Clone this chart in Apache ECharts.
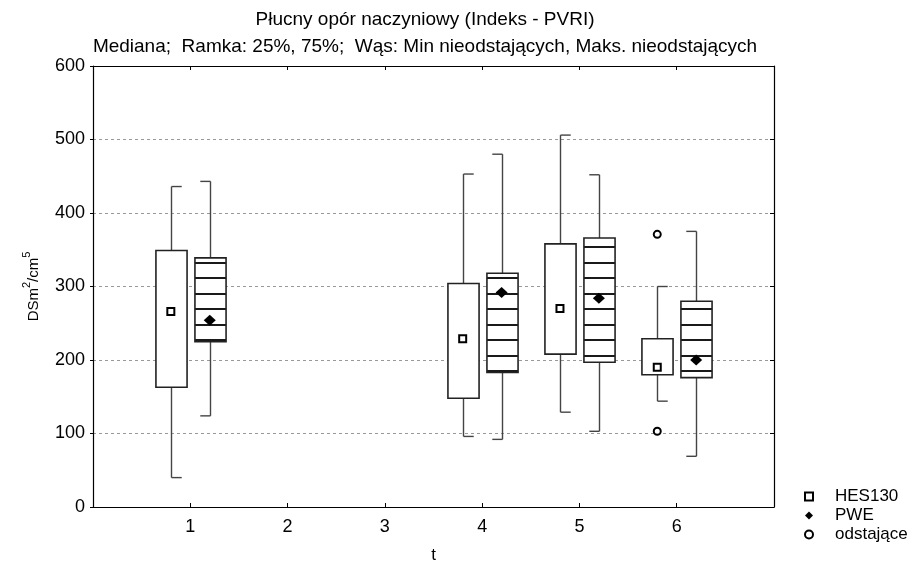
<!DOCTYPE html>
<html>
<head>
<meta charset="utf-8">
<script src="https://cdn.jsdelivr.net/npm/echarts@6/dist/echarts.min.js"></script>
<style>
html,body{margin:0;padding:0;background:#fff;}
#chart{width:913px;height:563px;}
</style>
</head>
<body>
<div id="chart"></div>
<script>
// ---- data ----
const categories = [1, 2, 3, 4, 5, 6];
const groupsT = [1, 4, 5, 6];
// [min (non-outlier), Q1, median, Q3, max (non-outlier)]
const hes130 = [
  [40, 163, 266, 349, 436],
  [96, 148, 229, 304, 453],
  [129, 208, 270, 358, 506],
  [144, 180, 190, 229, 300]
];
const pwe = [
  [124, 225, 254, 339, 443],
  [92, 183, 292, 318, 480],
  [103, 197, 284, 366, 452],
  [69, 176, 200, 280, 375]
];
// outliers: [t, value] (HES130 group)
const outliersHes = [[6, 371], [6, 103]];
const yTicks = [0, 100, 200, 300, 400, 500, 600];

const titleText = 'Płucny opór naczyniowy (Indeks - PVRI)';
const subText = 'Mediana;  Ramka: 25%, 75%;  Wąs: Min nieodstających, Maks. nieodstających';

// ---- styling helpers ----
const FONT = '"Liberation Sans", Arial, sans-serif';
const OFF = 0.2;      // group offset in category units
const BOXW = 0.32;    // box width in category units
const CAPW = 0.105;   // whisker cap length

// hatch pattern for PWE boxes
const pat = document.createElement('canvas');
pat.width = 8; pat.height = 31;
const pctx = pat.getContext('2d');
pctx.fillStyle = '#fff'; pctx.fillRect(0, 0, 8, 31);
pctx.fillStyle = '#1a1a1a';
pctx.fillRect(0, 14, 8, 2);
pctx.fillRect(0, 29, 8, 2);

function boxData(arr, sign) {
  return arr.map((v, i) => [groupsT[i] + sign * OFF, v[0], v[1], v[2], v[3], v[4]]);
}
function medData(arr, sign) {
  return arr.map((v, i) => [groupsT[i] + sign * OFF, v[2]]);
}

function makeRender(dir, hatched) {
  return function (params, api) {
    const x = api.value(0);
    const pMin = api.coord([x, api.value(1)]);
    const pQ1 = api.coord([x, api.value(2)]);
    const pQ3 = api.coord([x, api.value(4)]);
    const pMax = api.coord([x, api.value(5)]);
    const w = api.size([BOXW, 0])[0];
    const cap = api.size([CAPW, 0])[0];
    const cx = Math.round(pQ1[0]) + 0.5;
    const lineStyle = { stroke: '#444', lineWidth: 1.4 };
    return {
      type: 'group',
      children: [
        { type: 'line', shape: { x1: cx, y1: pQ3[1], x2: cx, y2: pMax[1] }, style: lineStyle },
        { type: 'line', shape: { x1: cx, y1: pMax[1], x2: cx + dir * cap, y2: pMax[1] }, style: lineStyle },
        { type: 'line', shape: { x1: cx, y1: pQ1[1], x2: cx, y2: pMin[1] }, style: lineStyle },
        { type: 'line', shape: { x1: cx, y1: pMin[1], x2: cx + dir * cap, y2: pMin[1] }, style: lineStyle },
        {
          type: 'rect',
          shape: { x: cx - w / 2, y: pQ3[1], width: w, height: pQ1[1] - pQ3[1] },
          style: {
            fill: hatched ? { image: pat, repeat: 'repeat' } : '#fff',
            stroke: '#222', lineWidth: 1.6
          }
        }
      ]
    };
  };
}

const chart = echarts.init(document.getElementById('chart'), null, { renderer: 'canvas' });
const option = {
  backgroundColor: '#fff',
  animation: false,
  textStyle: { fontFamily: FONT },
  title: {
    text: titleText,
    subtext: subText,
    left: 420,
    textAlign: 'center',
    top: 5,
    itemGap: 8,
    textStyle: { fontFamily: FONT, fontSize: 19, fontWeight: 'normal', color: '#000' },
    subtextStyle: { fontFamily: FONT, fontSize: 19, color: '#000' }
  },
  legend: {
    orient: 'vertical',
    left: 799,
    top: 483,
    itemWidth: 8,
    itemHeight: 8,
    itemGap: 2,
    textStyle: { fontFamily: FONT, fontSize: 17, color: '#000', padding: [0, 0, 0, 17] },
    data: [
      { name: 'HES130' },
      { name: 'PWE' },
      { name: 'odstające' }
    ]
  },
  grid: { left: 93, right: 139, top: 66, bottom: 56, show: false, outerBoundsMode: 'none', containLabel: false },
  xAxis: [
    {
      type: 'value', min: 0, max: 7, interval: 1,
      name: 't', nameLocation: 'middle', nameGap: 40,
      nameTextStyle: { fontFamily: FONT, fontSize: 17, color: '#000' },
      axisLine: { show: true, onZero: false, lineStyle: { color: '#000', width: 1.2 } },
      axisTick: { show: true, inside: true, length: 4, lineStyle: { color: '#000' } },
      axisLabel: {
        fontFamily: FONT, fontSize: 18, color: '#000', margin: 11,
        formatter: v => (categories.indexOf(v) >= 0 ? String(v) : '')
      },
      splitLine: { show: false }
    },
    {
      type: 'value', min: 0, max: 7, interval: 1, position: 'top',
      axisLine: { show: true, onZero: false, lineStyle: { color: '#000', width: 1.2 } },
      axisTick: { show: true, inside: true, length: 4, lineStyle: { color: '#000' } },
      axisLabel: { show: false },
      splitLine: { show: false }
    }
  ],
  yAxis: [
    {
      type: 'value', min: yTicks[0], max: yTicks[yTicks.length - 1], interval: 100,
      name: '{a|DSm}{s|2}{a|/cm}{s|5}',
      nameLocation: 'middle', nameGap: 52, nameRotate: 90,
      nameTextStyle: {
        rich: {
          a: { fontFamily: FONT, fontSize: 15, color: '#000', lineHeight: 20, verticalAlign: 'bottom' },
          s: { fontFamily: FONT, fontSize: 11, color: '#000', lineHeight: 20, verticalAlign: 'top' }
        }
      },
      axisLine: { show: true, onZero: false, lineStyle: { color: '#000', width: 1.2 } },
      axisTick: { show: true, inside: false, length: 3, lineStyle: { color: '#000' } },
      axisLabel: { fontFamily: FONT, fontSize: 18, color: '#000', margin: 8 },
      splitLine: { show: true, lineStyle: { color: '#999', type: [3, 3], width: 1 } }
    },
    {
      type: 'value', min: yTicks[0], max: yTicks[yTicks.length - 1], interval: 100, position: 'right',
      axisLine: { show: true, onZero: false, lineStyle: { color: '#000', width: 1.2 } },
      axisTick: { show: true, inside: true, length: 4, lineStyle: { color: '#000' } },
      axisLabel: { show: false },
      splitLine: { show: false }
    }
  ],
  series: [
    {
      name: 'HES130-box', type: 'custom', z: 2,
      renderItem: makeRender(1, false),
      encode: { x: 0, y: [1, 2, 3, 4, 5] },
      data: boxData(hes130, -1)
    },
    {
      name: 'PWE-box', type: 'custom', z: 2,
      renderItem: makeRender(-1, true),
      encode: { x: 0, y: [1, 2, 3, 4, 5] },
      data: boxData(pwe, 1)
    },
    {
      name: 'HES130', type: 'scatter', z: 5,
      symbol: 'rect', symbolSize: 7,
      itemStyle: { color: '#fff', borderColor: '#000', borderWidth: 2, opacity: 1 },
      data: medData(hes130, -1)
    },
    {
      name: 'PWE', type: 'scatter', z: 5,
      symbol: 'diamond', symbolSize: [12, 11],
      itemStyle: { color: '#000', opacity: 1 },
      data: medData(pwe, 1)
    },
    {
      name: 'odstające', type: 'scatter', z: 5,
      symbol: 'circle', symbolSize: 7,
      itemStyle: { color: '#fff', borderColor: '#000', borderWidth: 2, opacity: 1 },
      data: outliersHes.map(p => [p[0] - OFF, p[1]])
    }
  ]
};
chart.setOption(option);
</script>
</body>
</html>
